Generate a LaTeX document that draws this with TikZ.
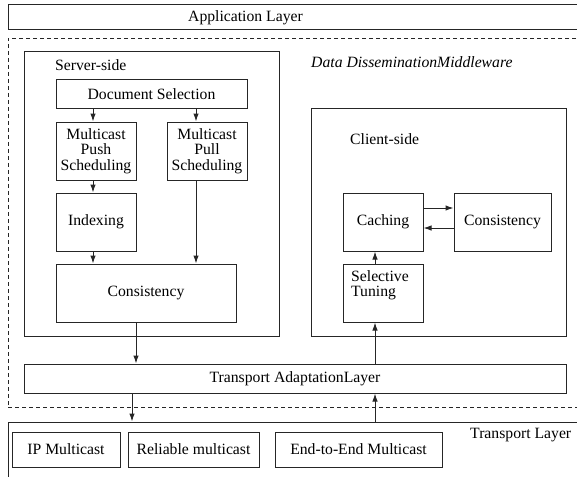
\documentclass[tikz,border=0pt]{standalone}
\usepackage{fontspec}
\setmainfont{Liberation Serif}
\usetikzlibrary{arrows.meta}
\begin{document}
\begin{tikzpicture}[x=1pt,y=-1pt,
  every node/.style={font=\fontsize{15.7}{16}\selectfont, inner sep=0pt},
  line/.style={draw=black!85, line width=1pt},
  box/.style={line, rectangle, anchor=center},
  arr/.style={line, -{Latex[length=8pt,width=5.5pt]}},
  lbl/.style={anchor=base west}]
\useasboundingbox (0,0) rectangle (577,476);
\clip (0,0) rectangle (577,476);
% outer layers
\node[box, minimum width=600pt, minimum height=25pt] (app) at (308,17.5) {};
\node (apptxt) at (245.5,17.5) {Application Layer};
\node[draw=black!85, line width=0.8pt, dash pattern=on 4pt off 3pt, rectangle, minimum width=600pt, minimum height=369pt] (mw) at (308,222.5) {};
\node[box, minimum width=600pt, minimum height=80pt] (tl) at (308,462) {};
% server / client
\node[box, minimum width=255pt, minimum height=284pt] (server) at (151.5,194) {};
\node[anchor=west] (servertxt) at (55,65) {Server-side};
\node[box, minimum width=255pt, minimum height=228pt] (client) at (438.5,222) {};
\node[anchor=west] (clienttxt) at (350,139) {Client-side};
\node[anchor=west, font=\fontsize{15.7}{16}\selectfont\itshape] (mwtxt) at (311,62) {Data DisseminationMiddleware};
% server boxes
\node[box, minimum width=191pt, minimum height=28pt] (ds) at (151.5,94) {Document Selection};
\node[box, minimum width=80pt, minimum height=58pt, align=center, font=\fontsize{15.7}{15.5}\selectfont] (push) at (96,151) {Multicast\\Push\\Scheduling};
\node[box, minimum width=80pt, minimum height=58pt, align=center, font=\fontsize{15.7}{15.5}\selectfont] (pull) at (207,151) {Multicast\\Pull\\Scheduling};
\node[box, minimum width=80pt, minimum height=58pt] (idx) at (96,222) {Indexing};
\node[box, minimum width=180pt, minimum height=58pt] (scons) at (146,293) {Consistency};
% transport adaptation
\node[box, minimum width=542pt, minimum height=29pt] (tal) at (295,378.5) {Transport AdaptationLayer};
% client boxes
\node[box, minimum width=80pt, minimum height=58pt] (cache) at (383,222) {Caching};
\node[box, minimum width=97pt, minimum height=58pt] (ccons) at (502.5,222) {Consistency};
\node[box, minimum width=80pt, minimum height=58pt] (sel) at (383,293) {};
\node[anchor=north west, align=left, font=\fontsize{15.7}{15.5}\selectfont] (seltxt) at (351,270) {Selective\\Tuning};
% transport boxes
\node[box, minimum width=108pt, minimum height=35pt] (ip) at (66,449.5) {IP Multicast};
\node[box, minimum width=131pt, minimum height=35pt] (rel) at (193.5,449.5) {Reliable multicast};
\node[box, minimum width=167pt, minimum height=35pt] (e2e) at (358.5,449.5) {End-to-End Multicast};
\node[anchor=west] (tltxt) at (470,435) {Transport Layer};
% arrows server side
\draw[arr] ([xshift=-3pt]push.north |- ds.south) -- ([xshift=-3pt]push.north);
\draw[arr] ([xshift=-11pt]pull.north |- ds.south) -- ([xshift=-11pt]pull.north);
\draw[arr] ([xshift=-3pt]push.south) -- ([xshift=-3pt]idx.north);
\draw[arr] ([xshift=-3pt]idx.south) -- ([xshift=-3pt]idx.south |- scons.north);
\draw[arr] ([xshift=-11pt]pull.south) -- ([xshift=-11pt]pull.south |- scons.north);
\draw[arr] ([xshift=-10pt]scons.south) -- ([xshift=-10pt]scons.south |- tal.north);
\draw[arr] (tal.south -| 132,0) -- (tl.north -| 132,0);
% arrows client side
\draw[arr] (tl.north -| 375,0) -- (tal.south -| 375,0);
\draw[arr] (tal.north -| 375,0) -- (sel.south -| 375,0);
\draw[arr] ([xshift=-8pt]sel.north) -- ([xshift=-8pt]cache.south);
\draw[arr] ([yshift=14pt]cache.east) -- ([yshift=14pt]cache.east -| ccons.west);
\draw[arr] ([yshift=-6pt]ccons.west) -- ([yshift=-6pt]ccons.west -| cache.east);
\end{tikzpicture}
\end{document}
